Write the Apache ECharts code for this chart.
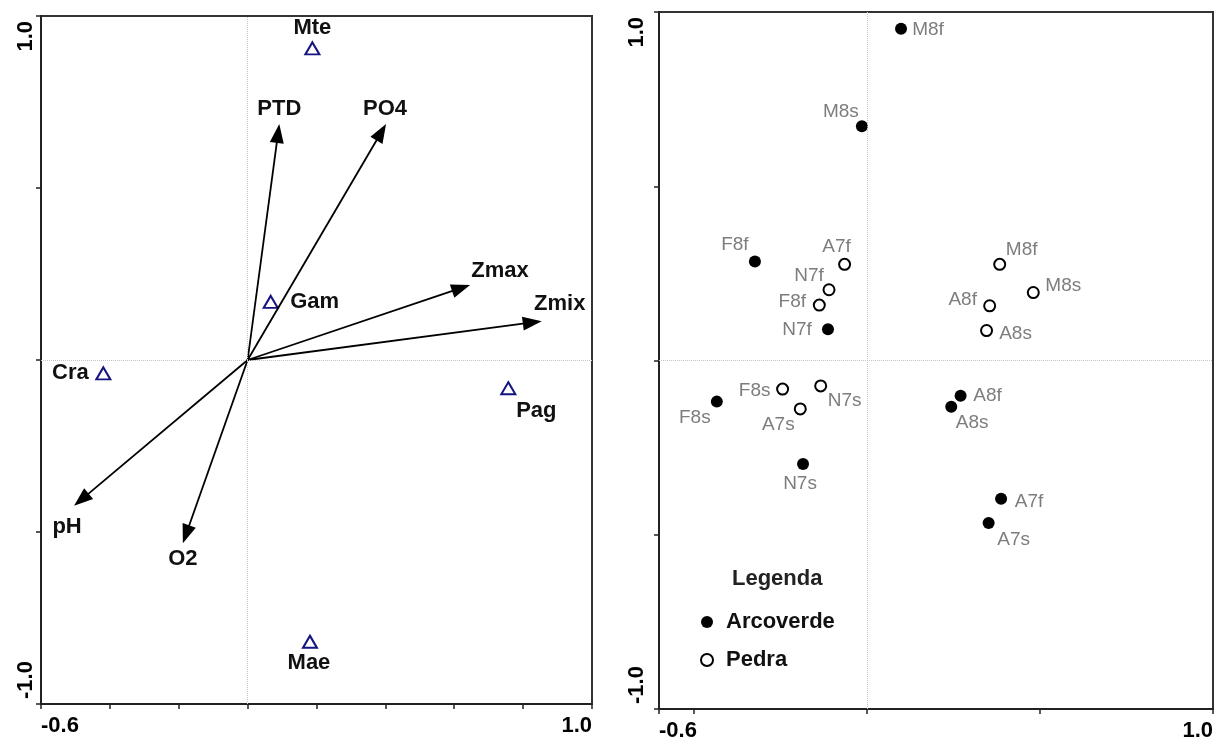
<!DOCTYPE html>
<html>
<head>
<meta charset="utf-8">
<script src="https://cdn.jsdelivr.net/npm/echarts@6/dist/echarts.min.js"></script>
<style>
  html, body { margin: 0; padding: 0; background: #fff; }
  #chart { width: 1216px; height: 742px; }
</style>
</head>
<body>
<div id="chart"></div>
<script>
// ---- Environmental variables (biplot arrows, axis 1 / axis 2 scores) ----
const varNames = ['PTD', 'PO4', 'Zmax', 'Zmix', 'pH', 'O2'];
const varX = [0.092, 0.402, 0.646, 0.854, -0.504, -0.188];
const varY = [0.686, 0.686, 0.218, 0.113, -0.424, -0.533];

// ---- Species scores ----
const spNames = ['Mte', 'Gam', 'Cra', 'Pag', 'Mae'];
const spX = [0.188, 0.067, -0.419, 0.757, 0.181];
const spY = [0.906, 0.169, -0.039, -0.082, -0.819];

// ---- Sample scores: Arcoverde ----
const arcNames = ['M8f', 'M8s', 'F8f', 'N7f', 'F8s', 'A8f', 'A8s', 'N7s', 'A7f', 'A7s'];
const arcX = [0.099, -0.014, -0.323, -0.112, -0.433, 0.271, 0.244, -0.184, 0.388, 0.352];
const arcY = [0.952, 0.672, 0.284, 0.090, -0.118, -0.101, -0.133, -0.297, -0.397, -0.466];

// ---- Sample scores: Pedra ----
const pedNames = ['A7f', 'N7f', 'F8f', 'M8f', 'M8s', 'A8f', 'A8s', 'F8s', 'N7s', 'A7s'];
const pedX = [-0.064, -0.109, -0.137, 0.384, 0.481, 0.355, 0.346, -0.243, -0.133, -0.192];
const pedY = [0.276, 0.203, 0.159, 0.276, 0.195, 0.157, 0.086, -0.082, -0.073, -0.139];

// ---- Axis ranges and tick labels ----
const leftXRange = [-0.6, 1.0];
const rightXRange = [-0.6, 1.0];
const yRange = [-1.0, 1.0];
const xTickLabels = [-0.6, 1.0];
const yTickLabels = [-1.0, 1.0];
const rightXTicks = [-0.6, -0.5, 0, 0.5, 1.0];

// Label placement (pixel offsets of label centre from the mark)
const varLabelOffset = {
  PTD: [0, -15], PO4: [-1, -15], Zmax: [30, -14], Zmix: [18, -17], pH: [-7, 21], O2: [0, 16]
};
const spLabelOffset = {
  Mte: [0, -20], Gam: [44, 0], Cra: [-33, 0], Pag: [28, 23], Mae: [-1, 21]
};
const arcLabelOffset = {
  M8f: [27, 1], M8s: [-21, -15], F8f: [-20, -17], N7f: [-31, 1], F8s: [-22, 16],
  A8f: [27, 0], A8s: [21, 16], N7s: [-3, 20], A7f: [28, 3], A7s: [25, 17]
};
const pedLabelOffset = {
  A7f: [-8, -18], N7f: [-20, -14], F8f: [-27, -3], M8f: [22, -15], M8s: [30, -7],
  A8f: [-27, -6], A8s: [29, 3], F8s: [-28, 2], N7s: [24, 15], A7s: [-22, 16]
};

const FONT = '"Liberation Sans", Arial, Helvetica, sans-serif';
const BOLD_SIZE = 22;
const boldText = { fontFamily: FONT, fontSize: BOLD_SIZE, fontWeight: 'bold', color: '#111' };
const greyText = { fontFamily: FONT, fontSize: 19, color: '#7d7d7d' };
const NAVY = '#151580';

function zip(names, xs, ys, offsets) {
  return names.map((n, i) => ({
    name: n,
    value: [xs[i], ys[i]],
    label: { offset: offsets[n] }
  }));
}

const axisLineStyle = { color: '#222', width: 2 };
const zeroLines = {
  silent: true,
  symbol: 'none',
  label: { show: false },
  lineStyle: { type: 'dotted', color: '#c4c4c4', width: 1 },
  data: [{ xAxis: 0 }, { yAxis: 0 }]
};

function xAxisCfg(gridIndex, range, interval, tickValues) {
  return {
    gridIndex, type: 'value', min: range[0], max: range[1], interval,
    axisLine: { show: true, onZero: false, lineStyle: axisLineStyle },
    axisTick: Object.assign({ show: true, length: 5, lineStyle: { color: '#222', width: 1.5 } },
      tickValues ? { customValues: tickValues } : {}),
    axisLabel: {
      customValues: xTickLabels,
      formatter: v => v.toFixed(1),
      margin: 11,
      alignMinLabel: 'left', alignMaxLabel: 'right',
      fontFamily: FONT, fontSize: BOLD_SIZE, fontWeight: 'bold', color: '#000'
    },
    splitLine: { show: false }
  };
}
function yAxisCfg(gridIndex, margin) {
  return {
    gridIndex, type: 'value', min: yRange[0], max: yRange[1], interval: 0.5,
    axisLine: { show: true, onZero: false, lineStyle: axisLineStyle },
    axisTick: { show: true, length: 5, lineStyle: { color: '#222', width: 1.5 } },
    axisLabel: {
      customValues: yTickLabels,
      formatter: v => v.toFixed(1),
      rotate: 90,
      margin,
      padding: [0, 5, 0, 5],
      alignMinLabel: 'left', alignMaxLabel: 'right',
      fontFamily: FONT, fontSize: BOLD_SIZE, fontWeight: 'bold', color: '#000'
    },
    splitLine: { show: false }
  };
}

const chart = echarts.init(document.getElementById('chart'), null, { renderer: 'canvas' });

chart.setOption({
  animation: false,
  backgroundColor: '#fff',
  textStyle: { fontFamily: FONT },
  grid: [
    { left: 41, top: 16, width: 551, height: 688, show: true, borderColor: '#333', borderWidth: 2 },
    { left: 659, top: 12, width: 556, height: 697, show: true, borderColor: '#333', borderWidth: 2 }
  ],
  xAxis: [
    xAxisCfg(0, leftXRange, 0.2),
    xAxisCfg(1, rightXRange, 0.2, rightXTicks)
  ],
  yAxis: [yAxisCfg(0, 4), yAxisCfg(1, 11)],
  title: {
    text: 'Legenda',
    left: 732, top: 568, padding: 0,
    textStyle: { fontFamily: FONT, fontSize: BOLD_SIZE, fontWeight: 'bold', color: '#222' }
  },
  legend: {
    data: ['Arcoverde', 'Pedra'],
    orient: 'vertical',
    left: 700, top: 610,
    padding: 0,
    itemWidth: 12, itemHeight: 12, itemGap: 14,
    icon: 'circle',
    textStyle: { fontFamily: FONT, fontSize: BOLD_SIZE, fontWeight: 'bold', color: '#111', lineHeight: 24, padding: [0, 0, 0, 8] }
  },
  series: [
    // Environmental arrows drawn from the origin
    {
      type: 'custom',
      name: 'vars',
      xAxisIndex: 0, yAxisIndex: 0,
      z: 4,
      data: varNames.map((n, i) => ({ name: n, value: [varX[i], varY[i]] })),
      renderItem(params, api) {
        const name = varNames[params.dataIndex];
        const o = api.coord([0, 0]);
        const p = api.coord([api.value(0), api.value(1)]);
        const dx = p[0] - o[0], dy = p[1] - o[1];
        const len = Math.hypot(dx, dy);
        const ux = dx / len, uy = dy / len;
        const headL = 19, headW = 7;
        const bx = p[0] - ux * headL, by = p[1] - uy * headL;
        const off = varLabelOffset[name];
        return {
          type: 'group',
          children: [
            { type: 'line', shape: { x1: o[0], y1: o[1], x2: bx + ux * 2, y2: by + uy * 2 },
              style: { stroke: '#000', lineWidth: 1.8 } },
            { type: 'polygon',
              shape: { points: [p, [bx - uy * headW, by + ux * headW], [bx + uy * headW, by - ux * headW]] },
              style: { fill: '#000' } },
            { type: 'text', x: p[0] + off[0], y: p[1] + off[1],
              style: { text: name, align: 'center', verticalAlign: 'middle',
                font: 'bold ' + BOLD_SIZE + 'px ' + FONT, fill: '#111' } }
          ]
        };
      }
    },
    // Species (open triangles)
    {
      type: 'scatter',
      name: 'species',
      xAxisIndex: 0, yAxisIndex: 0,
      z: 3,
      symbol: 'triangle',
      symbolSize: [14, 12],
      itemStyle: { color: 'rgba(255,255,255,0)', borderColor: NAVY, borderWidth: 2, opacity: 1 },
      label: Object.assign({ show: true, position: 'inside', formatter: '{b}', align: 'center', verticalAlign: 'middle' }, boldText),
      data: zip(spNames, spX, spY, spLabelOffset),
      markLine: zeroLines
    },
    // Arcoverde samples (filled circles)
    {
      type: 'scatter',
      name: 'Arcoverde',
      xAxisIndex: 1, yAxisIndex: 1,
      z: 3,
      symbol: 'circle',
      symbolSize: 12,
      itemStyle: { color: '#000', borderColor: '#000', borderWidth: 0, opacity: 1 },
      label: Object.assign({ show: true, position: 'inside', formatter: '{b}', align: 'center', verticalAlign: 'middle' }, greyText),
      data: zip(arcNames, arcX, arcY, arcLabelOffset),
      markLine: zeroLines
    },
    // Pedra samples (open circles)
    {
      type: 'scatter',
      name: 'Pedra',
      xAxisIndex: 1, yAxisIndex: 1,
      z: 3,
      symbol: 'circle',
      symbolSize: 11,
      itemStyle: { color: '#fff', borderColor: '#000', borderWidth: 2, opacity: 1 },
      label: Object.assign({ show: true, position: 'inside', formatter: '{b}', align: 'center', verticalAlign: 'middle' }, greyText),
      data: zip(pedNames, pedX, pedY, pedLabelOffset)
    }
  ]
});
</script>
</body>
</html>
